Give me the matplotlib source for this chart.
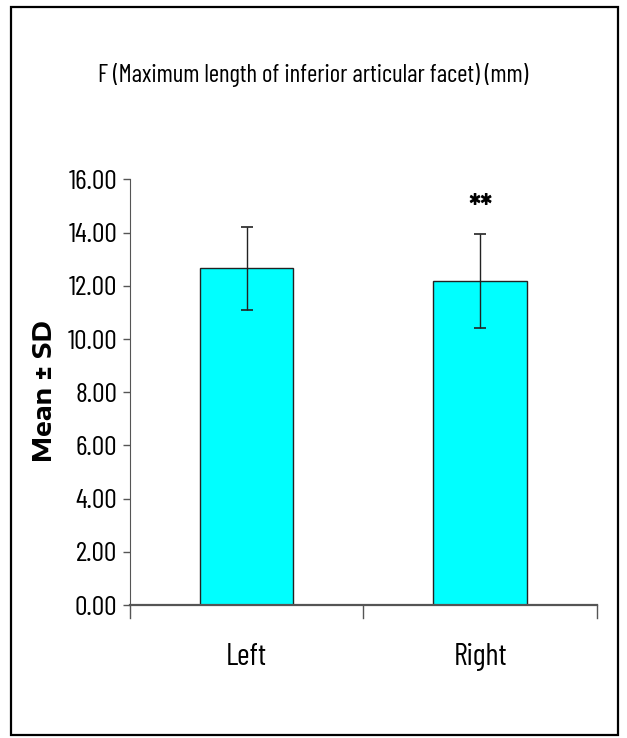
"""Bar chart: F (Maximum length of inferior articular facet), left vs right."""
import matplotlib
matplotlib.use("Agg")
import matplotlib.pyplot as plt
from matplotlib.patches import Rectangle

sides = ["Left", "Right"]
means = [12.65, 12.17]
sds = [1.57, 1.76]
marks = ["", "**"]

NARROW = ["Barlow Condensed", "Roboto Condensed", "DejaVu Sans"]
WIDE = ["Encode Sans Expanded", "DejaVu Sans"]

fig = plt.figure(figsize=(6.27, 7.38), dpi=100)
fig.patch.set_facecolor("white")
fig.add_artist(Rectangle((0.018, 0.004), 0.968, 0.987, transform=fig.transFigure,
                         fill=False, edgecolor="black", linewidth=1.6))

ax = fig.add_axes([0.207, 0.180, 0.745, 0.577])
x = list(range(len(sides)))
ax.bar(x, means, width=0.4, color="#00FFFF", edgecolor="#222222", linewidth=1.0, zorder=2)
ax.errorbar(x, means, yerr=sds, fmt="none", ecolor="#222222", elinewidth=1.0,
            capsize=4.5, capthick=1.2, zorder=3)
for xi, m, s, mk in zip(x, means, sds, marks):
    if mk:
        ax.text(xi, m + s + 0.35, mk, ha="center", va="bottom", fontsize=24,
                family=NARROW, fontweight="bold")

ax.set_xlim(-0.5, len(sides) - 0.5)
ax.set_ylim(0, 16)
ax.set_yticks(range(0, 17, 2))
ax.set_yticklabels([f"{v:.2f}" for v in range(0, 17, 2)], family=NARROW, fontsize=20)
ax.set_xticks(x)
ax.set_xticklabels(sides, family=NARROW, fontsize=22)
ax.tick_params(axis="x", length=0, pad=27)
ax.tick_params(axis="y", length=5, width=1, color="#555555", pad=4)
for b in [-0.5, 0.5, 1.5]:
    ax.plot([b, b], [0, -0.03], transform=ax.get_xaxis_transform(), color="#555555",
            lw=1, clip_on=False)
for sp in ["top", "right"]:
    ax.spines[sp].set_visible(False)
ax.spines["left"].set_color("#555555")
ax.spines["bottom"].set_color("#555555")
ax.spines["bottom"].set_linewidth(1.6)

fig.text(0.50, 0.898, "F (Maximum length of inferior articular facet) (mm)",
         ha="center", va="center", family=NARROW, fontsize=18)
fig.text(0.072, 0.47, "Mean \u00b1 SD", rotation=90, ha="center", va="center",
         family=WIDE, fontweight="bold", fontsize=18)

fig.savefig("out.png", dpi=100, facecolor="white")
